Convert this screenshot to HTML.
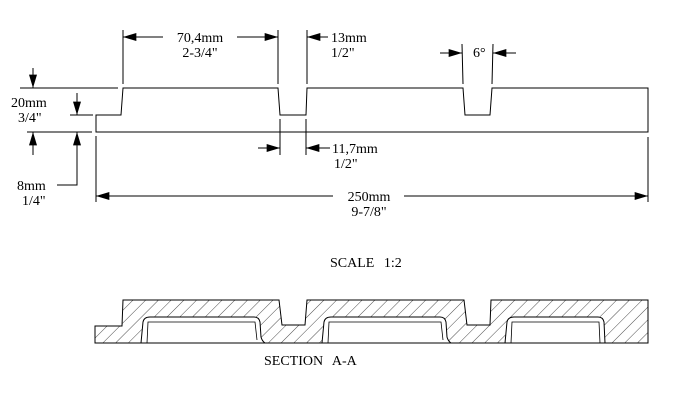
<!DOCTYPE html>
<html><head><style>
body{margin:0;background:#fff;}
svg{display:block}
text{font-family:"Liberation Serif",serif;font-size:14px;fill:#000}
</style></head><body>
<svg width="686" height="414" viewBox="0 0 686 414" xmlns="http://www.w3.org/2000/svg">
<defs>
<pattern id="h" width="9" height="9" patternUnits="userSpaceOnUse" patternTransform="rotate(45)">
<line x1="0" y1="0" x2="0" y2="9" stroke="#000" stroke-width="0.7"/>
</pattern>
<marker id="a" viewBox="0 0 10 6" refX="10" refY="3" markerWidth="16" markerHeight="8" markerUnits="userSpaceOnUse" orient="auto"><path d="M0,0L10,3L0,6z"/></marker>
</defs>
<g stroke="#000" stroke-width="1" fill="none">
<path d="M96,115 L121,115 L123,88 L278,88 L280,115 L306,115 L307,88 L463,88 L465,115 L490,115 L492,88 L648,88 L648,132 L96,132 Z"/>
<line x1="123" y1="30" x2="123" y2="84"/>
<line x1="278" y1="30" x2="278" y2="84"/>
<line x1="307" y1="30" x2="307" y2="84"/>
<line x1="462" y1="44" x2="463" y2="84"/>
<line x1="493" y1="44" x2="492" y2="84"/>
<line x1="280" y1="119" x2="280" y2="155"/>
<line x1="306" y1="119" x2="306" y2="155"/>
<line x1="96" y1="136" x2="96" y2="202"/>
<line x1="648" y1="137" x2="648" y2="202"/>
<line x1="20" y1="88" x2="118" y2="88"/>
<line x1="27" y1="132" x2="92" y2="132"/>
<line x1="70" y1="115" x2="93" y2="115"/>
<line x1="165" y1="37" x2="123" y2="37" marker-end="url(#a)"/>
<line x1="235" y1="37" x2="278" y2="37" marker-end="url(#a)"/>
<line x1="328" y1="37" x2="307" y2="37" marker-end="url(#a)"/>
<line x1="440" y1="53" x2="462" y2="53" marker-end="url(#a)"/>
<line x1="516" y1="53" x2="493" y2="53" marker-end="url(#a)"/>
<line x1="258" y1="148" x2="280" y2="148" marker-end="url(#a)"/>
<line x1="330" y1="148" x2="306" y2="148" marker-end="url(#a)"/>
<line x1="335" y1="196" x2="96" y2="196" marker-end="url(#a)"/>
<line x1="402" y1="196" x2="648" y2="196" marker-end="url(#a)"/>
<line x1="33" y1="68" x2="33" y2="88" marker-end="url(#a)"/>
<line x1="33" y1="155" x2="33" y2="132" marker-end="url(#a)"/>
<line x1="77" y1="93" x2="77" y2="115" marker-end="url(#a)"/>
<path d="M57,185 L77,185 L77,132" marker-end="url(#a)"/>
</g>
<g fill="#fff"><rect x="163" y="28" width="74" height="30"/><rect x="333" y="185" width="71" height="14"/></g>
<text x="200" y="42" text-anchor="middle">70,4mm</text>
<text x="200" y="57" text-anchor="middle">2-3/4"</text>
<text x="331" y="42">13mm</text>
<text x="331" y="57">1/2"</text>
<text x="473" y="57">6°</text>
<text x="332" y="153">11,7mm</text>
<text x="334" y="168">1/2"</text>
<text x="369" y="201" text-anchor="middle">250mm</text>
<text x="369" y="216" text-anchor="middle">9-7/8"</text>
<text x="11" y="107">20mm</text>
<text x="18" y="122">3/4"</text>
<text x="17" y="190">8mm</text>
<text x="22" y="205">1/4"</text>
<text x="330" y="267" word-spacing="6">SCALE 1:2</text>
<text x="264" y="365" word-spacing="6">SECTION A-A</text>
<path d="M95,326 L122,326 L123,300 L279,300 L282,325 L305,325 L307,300 L464,300 L467,325 L490,325 L491,300 L648,300 L648,343 L95,343 Z" fill="url(#h)" stroke="#000" stroke-width="1"/>
<g fill="#fff" stroke="#000" stroke-width="1">
<path d="M141,343 L143,322 Q144,317 150,317 L254,317 Q259,317 260,322 L261,337 Q262,341 265,343 Z"/>
<path d="M322,343 L324,322 Q325,317 331,317 L440,317 Q445,317 446,322 L447,337 Q448,341 451,343 Z"/>
<path d="M505,343 L507,322 Q508,317 514,317 L598,317 Q603,317 604,322 L605,343 Z"/>
</g>
<g stroke="#000" stroke-width="0.8" fill="none">
<path d="M147,343 L148,322 L255,322 L257,340"/>
<path d="M328,343 L329,322 L441,322 L443,340"/>
<path d="M511,343 L512,322 L599,322 L600,343"/>
</g>
</svg>
</body></html>
